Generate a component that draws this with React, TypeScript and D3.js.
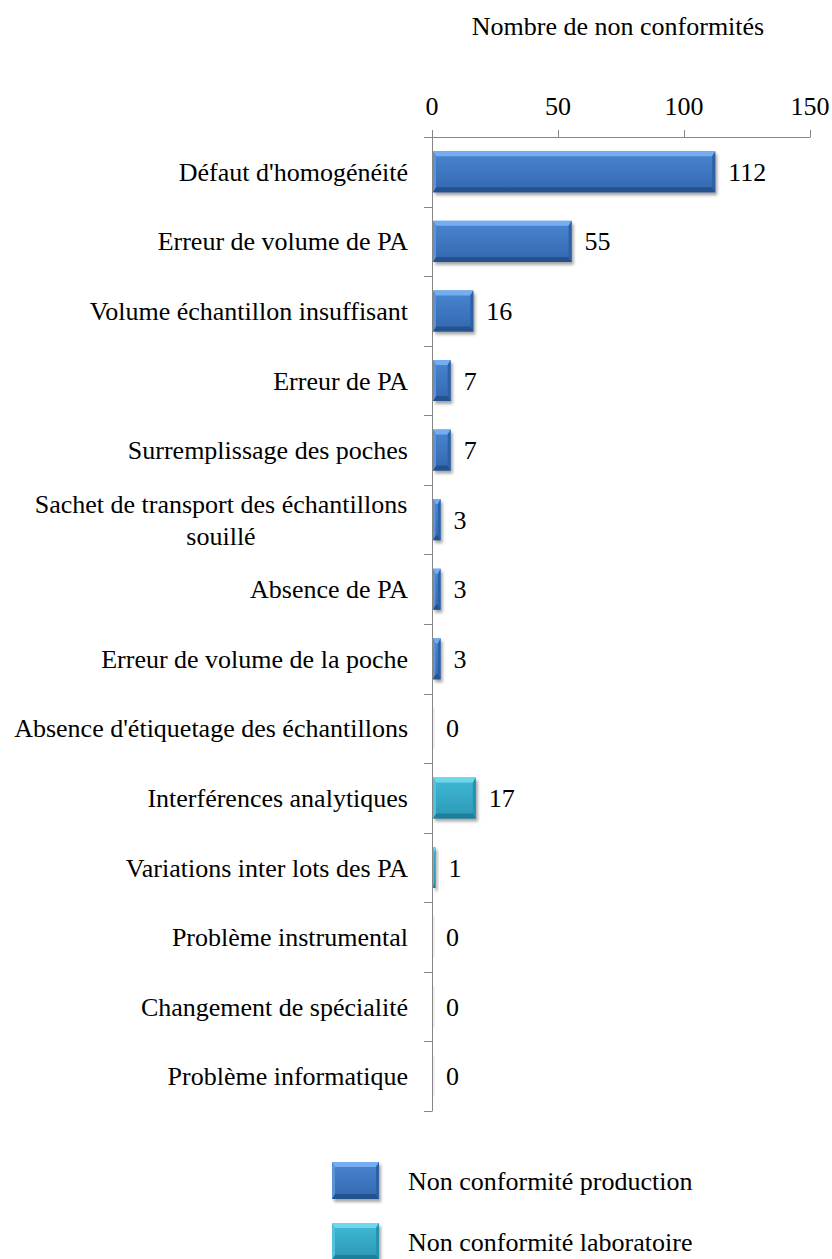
import React, { useEffect, useRef } from "react";
import * as d3 from "d3";

const categories = [
  "Défaut d'homogénéité",
  "Erreur de volume de PA",
  "Volume échantillon insuffisant",
  "Erreur de PA",
  "Surremplissage des poches",
  "Sachet de transport des échantillons\nsouillé",
  "Absence de PA",
  "Erreur de volume de la poche",
  "Absence d'étiquetage des échantillons",
  "Interférences analytiques",
  "Variations inter lots des PA",
  "Problème instrumental",
  "Changement de spécialité",
  "Problème informatique",
];
// production series covers first 9 categories, laboratory series the last 5
const productionValues = [112, 55, 16, 7, 7, 3, 3, 3, 0];
const laboratoryValues = [17, 1, 0, 0, 0];
const xTicks = [0, 50, 100, 150];
const seriesNames = ["Non conformité production", "Non conformité laboratoire"];
const axisTitle = "Nombre de non conformités";

const FONT = '"Liberation Serif", "Times New Roman", serif';

const palettes = [
  { top: "#75aef0", bottom: "#24528f", left: "#5b92d8", right: "#2c61a6", grad1: "#4a86d2", grad2: "#3367ae" },
  { top: "#6fd6ee", bottom: "#207f98", left: "#52c1dc", right: "#2692ad", grad1: "#3fbad7", grad2: "#2c98b4" },
];

export default function App() {
  const ref = useRef<SVGSVGElement>(null);

  useEffect(() => {
    const svg = d3.select(ref.current);
    svg.selectAll("*").remove();

    const data = categories.map((c, i) => ({
      cat: c,
      value: i < productionValues.length ? productionValues[i] : laboratoryValues[i - productionValues.length],
      s: i < productionValues.length ? 0 : 1,
    }));

    const x = d3.scaleLinear().domain([0, 150]).range([432, 810]);
    const y = d3.scaleBand<string>().domain(categories).range([137, 1111]).paddingInner(0.41).paddingOuter(0.205);

    const defs = svg.append("defs");
    palettes.forEach((p, i) => {
      const g = defs.append("linearGradient").attr("id", "g" + i).attr("x1", 0).attr("y1", 0).attr("x2", 0).attr("y2", 1);
      g.append("stop").attr("offset", "0%").attr("stop-color", p.grad1);
      g.append("stop").attr("offset", "100%").attr("stop-color", p.grad2);
    });
    const f = defs.append("filter").attr("id", "sh").attr("x", "-20%").attr("y", "-20%").attr("width", "160%").attr("height", "160%");
    f.append("feGaussianBlur").attr("stdDeviation", 1.5);

    const txt = (sel: any) => sel.style("font-family", FONT).attr("font-size", 26).attr("fill", "#000");

    // axis title
    txt(svg.append("text").attr("x", 618).attr("y", 35).attr("text-anchor", "middle")).text(axisTitle);

    // top axis
    const axisColor = "#868686";
    svg.append("line").attr("x1", 424).attr("x2", x(150)).attr("y1", 137.5).attr("y2", 137.5).attr("stroke", axisColor);
    xTicks.forEach((t) => {
      svg.append("line").attr("x1", x(t) + 0.5).attr("x2", x(t) + 0.5).attr("y1", 130).attr("y2", 137.5).attr("stroke", axisColor);
      txt(svg.append("text").attr("x", x(t)).attr("y", 115).attr("text-anchor", "middle")).text(t);
    });

    // left axis
    svg.append("line").attr("x1", 432.5).attr("x2", 432.5).attr("y1", 137).attr("y2", 1111).attr("stroke", axisColor);
    const step = y.step();
    for (let i = 0; i <= categories.length; i++) {
      const yy = Math.round(137 + i * step) + 0.5;
      svg.append("line").attr("x1", 424).attr("x2", 432.5).attr("y1", yy).attr("y2", yy).attr("stroke", axisColor);
    }

    // bars
    const drawBar = (g: any, x0: number, y0: number, w: number, h: number, s: number) => {
      const p = palettes[s];
      if (w <= 0) {
        g.append("rect").attr("x", x0).attr("y", y0).attr("width", 1.5).attr("height", h).attr("fill", "#ececec");
        return;
      }
      g.append("rect").attr("x", x0 + 2).attr("y", y0 + 3).attr("width", w).attr("height", h)
        .attr("fill", "rgba(0,0,0,0.35)").attr("filter", "url(#sh)");
      g.append("rect").attr("x", x0).attr("y", y0).attr("width", w).attr("height", h).attr("fill", "url(#g" + s + ")");
      const bx = Math.min(3, w / 3), by = Math.min(5, h / 4);
      const x1 = x0 + w, y1 = y0 + h;
      const poly = (pts: number[][], fill: string) =>
        g.append("polygon").attr("points", pts.map((q) => q.join(",")).join(" ")).attr("fill", fill);
      poly([[x0, y0], [x1, y0], [x1 - bx, y0 + by], [x0 + bx, y0 + by]], p.top);
      poly([[x0, y1], [x1, y1], [x1 - bx, y1 - by], [x0 + bx, y1 - by]], p.bottom);
      poly([[x0, y0], [x0 + bx, y0 + by], [x0 + bx, y1 - by], [x0, y1]], p.left);
      poly([[x1, y0], [x1 - bx, y0 + by], [x1 - bx, y1 - by], [x1, y1]], p.right);
    };

    const bars = svg.append("g");
    data.forEach((d) => {
      const y0 = y(d.cat)!;
      const w = x(d.value) - x(0);
      drawBar(bars, x(0) + 1, y0, w, y.bandwidth(), d.s);
      txt(svg.append("text").attr("x", x(d.value) + 14).attr("y", y0 + y.bandwidth() / 2).attr("dy", "0.35em")).text(d.value);
    });

    // category labels
    categories.forEach((c) => {
      const lines = c.split("\n");
      const cy = y(c)! + y.bandwidth() / 2;
      const lh = 32;
      if (lines.length === 1) {
        txt(svg.append("text").attr("x", 408).attr("y", cy).attr("dy", "0.35em").attr("text-anchor", "end")).text(c);
      } else {
        const t = txt(svg.append("text").attr("text-anchor", "middle"));
        lines.forEach((l, i) => {
          t.append("tspan").attr("x", 221).attr("y", cy + (i - (lines.length - 1) / 2) * lh).attr("dy", "0.35em").text(l);
        });
      }
    });

    // legend
    seriesNames.forEach((n, i) => {
      const ly = 1162 + i * 61;
      const lg = svg.append("g");
      drawBar(lg, 332, ly, 47, 37, i);
      txt(svg.append("text").attr("x", 408).attr("y", ly + 18.5).attr("dy", "0.35em")).text(n);
    });
  }, []);

  return (
    <svg ref={ref} width={832} height={1259} style={{ position: "absolute", left: 0, top: 0, background: "#fff" }} />
  );
}
